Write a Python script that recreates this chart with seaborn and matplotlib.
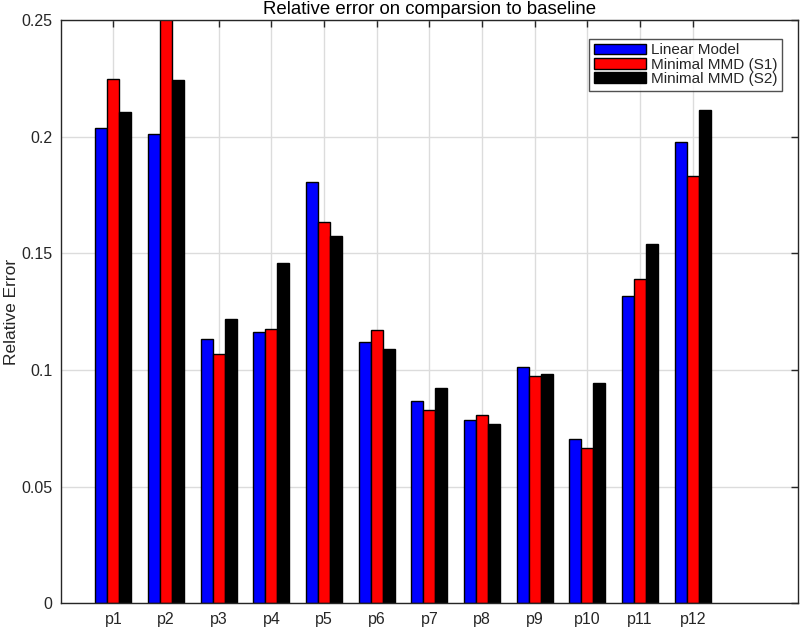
import numpy as np
import pandas as pd
import matplotlib
matplotlib.use("Agg")
import matplotlib.pyplot as plt
import seaborn as sns

# datos
problemas = ["p1", "p2", "p3", "p4", "p5", "p6", "p7", "p8", "p9", "p10", "p11", "p12"]
lineal = [0.2039, 0.2013, 0.1133, 0.1164, 0.1805, 0.1121, 0.0868, 0.0787, 0.1014, 0.0704, 0.1318, 0.1977]
mmd_s1 = [0.2248, 0.2700, 0.1070, 0.1177, 0.1633, 0.1170, 0.0830, 0.0806, 0.0974, 0.0664, 0.1390, 0.1833]
mmd_s2 = [0.2105, 0.2245, 0.1219, 0.1457, 0.1574, 0.1090, 0.0924, 0.0767, 0.0983, 0.0944, 0.1540, 0.2115]
series = ["Linear Model", "Minimal MMD (S1)", "Minimal MMD (S2)"]
colores = ["#0000ff", "#ff0000", "#000000"]
yticks = [0, 0.05, 0.1, 0.15, 0.2, 0.25]
ytick_labels = ["0", "0.05", "0.1", "0.15", "0.2", "0.25"]

df = pd.DataFrame({
    "problema": problemas * 3,
    "error": lineal + mmd_s1 + mmd_s2,
    "modelo": [series[0]] * 12 + [series[1]] * 12 + [series[2]] * 12,
})

sns.set_style("white")
plt.rcParams["font.family"] = ["Liberation Sans", "DejaVu Sans"]

fig = plt.figure(figsize=(8, 6.27), dpi=100)
ax = fig.add_axes([0.0759, 0.0378, 0.9216, 0.930])

sns.barplot(data=df, x="problema", y="error", hue="modelo", order=problemas,
            hue_order=series, palette=colores, width=0.68, gap=0,
            edgecolor="black", linewidth=1, saturation=1, errorbar=None, ax=ax)

ax.set_xlim(-1, 13)
ax.set_ylim(0, 0.25)
ax.set_yticks(yticks)
ax.set_yticklabels(ytick_labels)
ax.set_xlabel("")
ax.set_ylabel("Relative Error", fontsize=12.5, color="#262626")
ax.yaxis.set_label_coords(-0.057, 0.5)
ax.set_title("Relative error on comparsion to baseline", fontsize=13.4, pad=4.5,
             color="#000000")

ax.grid(True, color="#dcdcdc", linewidth=1)
ax.set_axisbelow(True)
ax.tick_params(direction="in", top=True, right=True, length=5, width=1,
               labelsize=11.5, colors="#262626", pad=6)
for s in ax.spines.values():
    s.set_visible(True)
    s.set_color("#262626")
    s.set_linewidth(1)

leg = ax.legend(loc="upper right", bbox_to_anchor=(0.9783, 0.968), fontsize=11,
                frameon=True, fancybox=False, handlelength=3.4, handleheight=0.7,
                handletextpad=0.33, labelspacing=0.02, borderpad=0.3, borderaxespad=0)
leg.get_frame().set_edgecolor("#262626")
leg.get_frame().set_linewidth(1)

plt.savefig("out.png", dpi=100)
